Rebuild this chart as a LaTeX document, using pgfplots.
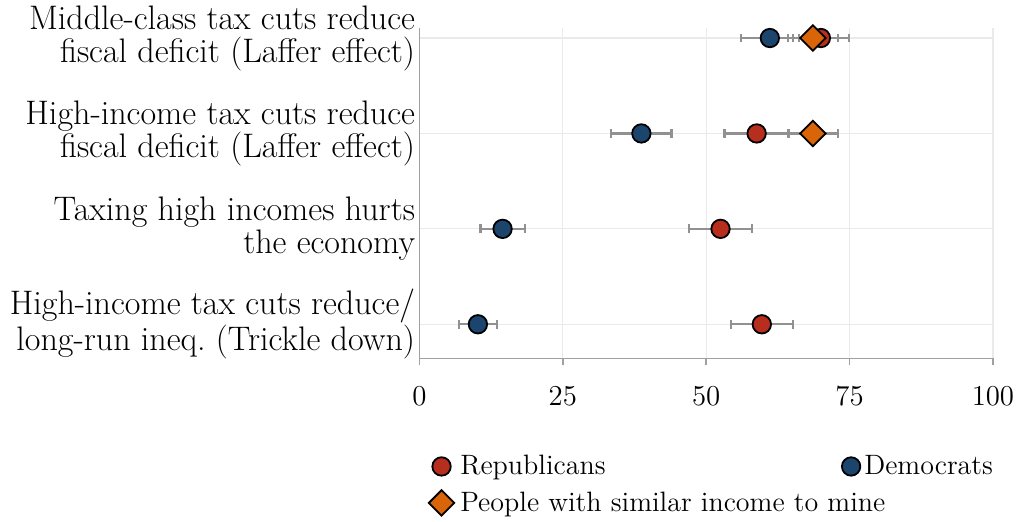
\documentclass[border=0pt]{standalone}
\usepackage{pgfplots}
\pgfplotsset{compat=1.18}

\definecolor{repred}{RGB}{184,46,30}
\definecolor{demblue}{RGB}{28,69,110}
\definecolor{peorange}{RGB}{217,101,8}
\definecolor{gridgray}{RGB}{234,234,234}
\definecolor{axisgray}{RGB}{160,160,160}
\definecolor{errgray}{RGB}{145,145,145}

\newcommand\ylbl{\fontsize{17.0}{16.5}\selectfont}
\newcommand\xlbl{\fontsize{15}{17}\selectfont}
\newcommand\leglbl{\fontsize{14}{16}\selectfont}

% belief shares (percent) with 95% intervals; y: 4 = top row
\pgfplotstableread{
y  x     e
4  70.0  4.9
3  58.8  5.6
2  52.5  5.5
1  59.7  5.4
}\rep
\pgfplotstableread{
y  x     e
4  61.1  5.1
3  38.7  5.25
2  14.5  3.85
1  10.2  3.35
}\dem
\pgfplotstableread{
y  x     e
4  68.6  4.4
3  68.6  4.4
}\peers

\begin{document}
\begin{tikzpicture}
\begin{axis}[
  scale only axis,
  width=286.5pt, height=165pt,
  xmin=0, xmax=100, ymin=0.643, ymax=4.105,
  xtick={0,25,50,75,100},
  ytick={1,2,3,4},
  yticklabels={
    {High-income tax cuts reduce/\\long-run ineq.\ (Trickle down)},
    {Taxing high incomes hurts\\the economy},
    {High-income tax cuts reduce\\fiscal deficit (Laffer effect)},
    {Middle-class tax cuts reduce\\fiscal deficit (Laffer effect)}},
  yticklabel style={align=right, font=\ylbl, inner sep=0pt, xshift=1.5pt},
  xticklabel style={font=\xlbl, yshift=-7pt},
  grid=major, grid style={gridgray, line width=0.6pt},
  axis x line*=bottom, axis y line*=left,
  axis line style={axisgray, line width=0.8pt, -},
  xtick style={axisgray, line width=0.8pt},
  ytick style={draw=none},
  tick align=outside, major tick length=3.5pt,
  legend columns=2,
  legend cell align=left,
  legend style={draw=none, fill=none, font=\leglbl, inner sep=0pt,
    at={(axis description cs:0,-0.28)}, anchor=north west, xshift=4.5pt,
    /tikz/column 1/.style={column sep=1pt},
    /tikz/column 2/.style={column sep=116pt}, row sep=3pt},
  error bars/error bar style={errgray, line width=1.1pt},
  error bars/error mark=|,
  error bars/error mark options={errgray, line width=1.1pt, mark size=2.2pt},
]
\addplot[only marks, mark=*, mark size=4.6pt,
  mark options={fill=repred, draw=black, line width=0.9pt},
  error bars/.cd, x dir=both, x explicit]
  table[x=x, y=y, x error=e] {\rep};
\addlegendentry{Republicans}
\addplot[only marks, mark=*, mark size=4.6pt,
  mark options={fill=demblue, draw=black, line width=0.9pt},
  error bars/.cd, x dir=both, x explicit]
  table[x=x, y=y, x error=e] {\dem};
\addlegendentry{Democrats}
\addplot[only marks, mark=square*, mark size=4.5pt,
  mark options={rotate=45, fill=peorange, draw=black, line width=0.9pt},
  error bars/.cd, x dir=both, x explicit]
  table[x=x, y=y, x error=e] {\peers};
\addlegendentry{\rlap{People with similar income to mine}}
\coordinate (bl) at (rel axis cs:0,0);
\coordinate (tr) at (rel axis cs:1,1);
\end{axis}
% page frame around the plot area, labels and legend
\pgfresetboundingbox
\path[use as bounding box] ([xshift=-209.5pt,yshift=-81.5pt]bl) rectangle ([xshift=13pt,yshift=14pt]tr);
\end{tikzpicture}
\end{document}
